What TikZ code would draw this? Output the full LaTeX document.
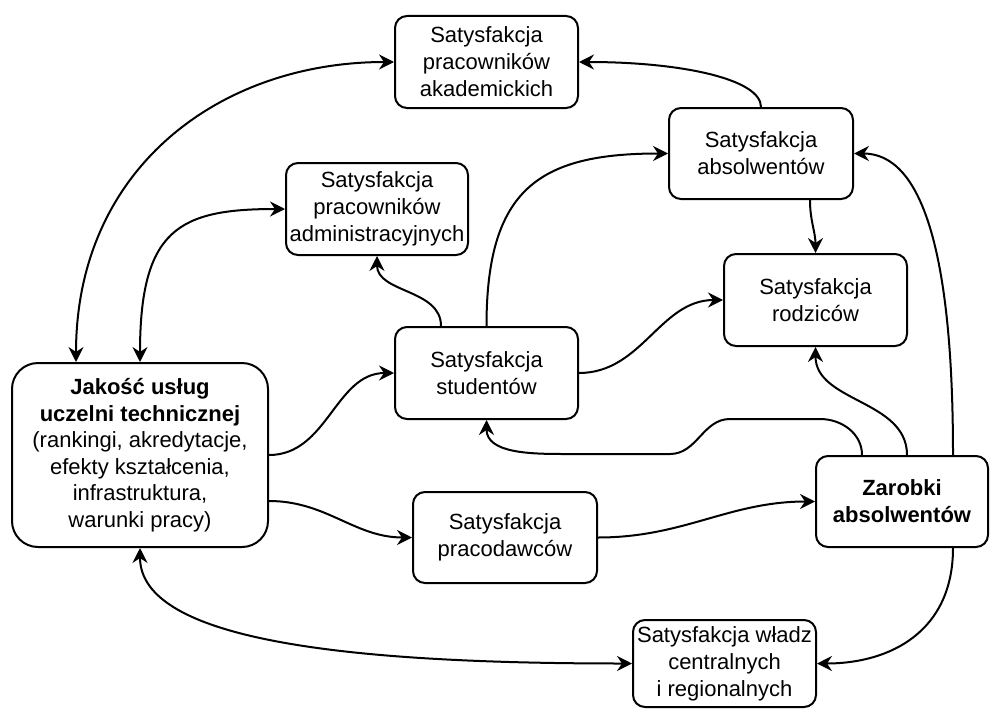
\documentclass[tikz,border=0pt]{standalone}
\usepackage{fontspec}
\setmainfont{Liberation Sans}
\usetikzlibrary{arrows.meta}
\begin{document}
\begin{tikzpicture}[x=1pt,y=1pt,
  box/.style={draw, line width=2pt, rounded corners=12pt, align=center, inner sep=0pt,
    minimum width=183pt, minimum height=92pt, font=\fontsize{22}{27}\selectfont},
  tip/.tip={Stealth[length=15pt,width=15pt,inset=5pt]},
  conn/.style={line width=2pt, -tip},
  biconn/.style={line width=2pt, tip-tip}]
\useasboundingbox (0,0) rectangle (990,-709);
\node[box] (akad) at (486.5,-62) {Satysfakcja\\pracowników\\akademickich};
\node[box, minimum width=182pt] (admin) at (377,-209) {Satysfakcja\\pracowników\\administracyjnych};
\node[box, minimum width=184pt, minimum height=91pt] (absol) at (761,-153.5) {Satysfakcja\\absolwentów};
\node[box] (rodz) at (815.5,-300) {Satysfakcja\\rodziców};
\node[box] (stud) at (486.5,-373) {Satysfakcja\\studentów};
\node[box, minimum width=256pt, minimum height=184pt, rounded corners=26pt,
  font=\fontsize{22}{26.5}\selectfont] (jak) at (140,-455)
  {\textbf{Jakość usług}\\\textbf{uczelni technicznej}\\(rankingi, akredytacje,\\efekty kształcenia,\\infrastruktura,\\warunki pracy)};
\node[box, minimum width=184pt, minimum height=91pt] (prac) at (505,-537.5) {Satysfakcja\\pracodawców};
\node[box, minimum width=172pt, minimum height=91pt] (zar) at (902,-501.5) {\textbf{Zarobki}\\\textbf{absolwentów}};
\node[box, minimum height=87pt] (wladz) at (724.5,-663.5) {Satysfakcja władz\\centralnych\\i regionalnych};

\draw[biconn] ([xshift=-64pt]jak.north) .. controls +(0,193) and +(-175,0) .. (akad.west);
\draw[biconn] (jak.north) .. controls +(0,133) and +(-106,0) .. (admin.west);
\draw[conn] ([xshift=-45.5pt]stud.north) to[out=90,in=-90] (admin.south);
\draw[conn] (stud.north) .. controls +(0,137) and +(-129,0) .. (absol.west);
\draw[conn] (absol.north) .. controls +(0,28) and +(102,0) .. (akad.east);
\draw[conn] ([xshift=49pt]absol.south) to[out=-90,in=90] (rodz.north);
\draw[conn] (stud.east) to[out=0,in=180] (rodz.west);
\draw[conn] ([xshift=-40pt]zar.north) to[out=90,in=0] ++(-42,36) -- ++(-90,0)
  to[out=180,in=0] ++(-60,-35) -- ++(-105,0) to[out=180,in=-90] (stud.south);
\draw[conn] ([xshift=5pt]zar.north) to[out=90,in=-90] (rodz.south);
\draw[conn] ([xshift=51pt]zar.north) .. controls +(0,206) and +(67,0) .. (absol.east);
\draw[conn] (jak.east) to[out=0,in=180] (stud.west);
\draw[conn] ([yshift=-46pt]jak.east) to[out=0,in=180] (prac.west);
\draw[conn] (prac.east) to[out=0,in=180] (zar.west);
\draw[conn] ([xshift=51pt]zar.south) .. controls +(0,-83) and +(74,0) .. (wladz.east);
\draw[biconn] (jak.south) .. controls +(0,-93) and +(-283,0) .. (wladz.west);
\end{tikzpicture}
\end{document}
